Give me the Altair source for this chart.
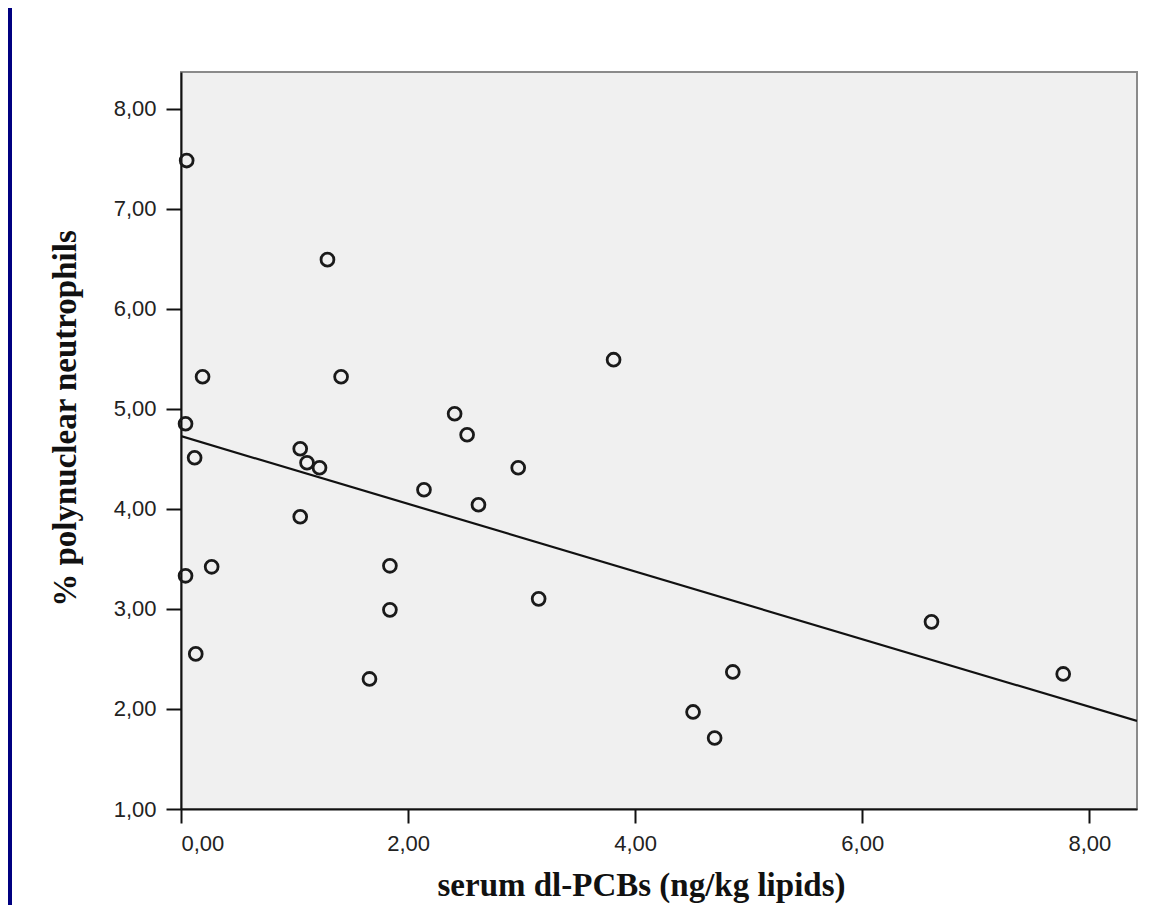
import altair as alt
import pandas as pd

# Data
pcb = [0.05, 1.29, 0.19, 1.41, 3.81, 2.41, 0.04, 2.52, 1.05, 0.12, 1.11, 1.22, 2.97, 2.14,
       2.62, 1.05, 1.84, 0.27, 0.04, 1.84, 3.15, 6.61, 0.13, 1.66, 4.86, 7.77, 4.51, 4.70]
pmn = [7.48, 6.49, 5.32, 5.32, 5.49, 4.95, 4.85, 4.74, 4.60, 4.51, 4.46, 4.41, 4.41, 4.19,
       4.04, 3.92, 3.43, 3.42, 3.33, 2.99, 3.10, 2.87, 2.55, 2.30, 2.37, 2.35, 1.97, 1.71]
x_ticks = [0, 2, 4, 6, 8]
y_ticks = [1, 2, 3, 4, 5, 6, 7, 8]
x_domain = [0, 8.42]
y_domain = [1, 8.365]

df = pd.DataFrame({"pcb": pcb, "pmn": pmn})

label_expr = "replace(format(datum.value, '.2f'), '.', ',')"

x_enc = alt.X(
    "pcb:Q",
    scale=alt.Scale(domain=x_domain, nice=False, zero=False),
    axis=alt.Axis(
        values=x_ticks, labelExpr=label_expr, grid=False,
        title="serum dl-PCBs (ng/kg lipids)",
        titleFont="Liberation Serif", titleFontSize=33, titleFontWeight="bold",
        titleColor="#111111", titleX=460, titleY=86, titleAlign="center",
        titleBaseline="alphabetic",
        labelFont="Liberation Sans", labelFontSize=22, labelColor="#222222",
        labelPadding=10, tickSize=14, tickWidth=2, tickColor="#111111",
        domainColor="#111111", domainWidth=2,
    ),
)
y_enc = alt.Y(
    "pmn:Q",
    scale=alt.Scale(domain=y_domain, nice=False, zero=False),
    axis=alt.Axis(
        values=y_ticks, labelExpr=label_expr, grid=False,
        title="% polynuclear neutrophils",
        titleFont="Liberation Serif", titleFontSize=33, titleFontWeight="bold",
        titleColor="#111111", titleX=-116, titleY=346, titleAngle=270,
        titleAlign="center", titleBaseline="middle",
        labelFont="Liberation Sans", labelFontSize=22, labelColor="#222222",
        labelPadding=10, tickSize=15, tickWidth=2, tickColor="#111111",
        domainColor="#111111", domainWidth=2,
    ),
)

points = alt.Chart(df).mark_point(
    shape="circle", filled=False, size=165, strokeWidth=2.8, color="#1a1a1a", opacity=1
).encode(x=x_enc, y=y_enc)

fit = alt.Chart(df).transform_regression(
    "pcb", "pmn", extent=x_domain
).mark_line(color="#111111", strokeWidth=2.2, clip=True).encode(x="pcb:Q", y="pmn:Q")

band = alt.Chart(df).mark_rule(color="#000080", strokeWidth=4).encode(
    x=alt.value(-171), y=alt.value(-64), y2=alt.value(833)
)

chart = alt.layer(fit, points, band).properties(
    width=956, height=737,
    padding={"left": 173, "top": 64, "right": 20, "bottom": 96},
    autosize="none",
    background="white",
).configure_view(
    fill="#f0f0f0", stroke="#8a8a8a", strokeWidth=2
)

chart.save("out.html", embed_options={"renderer": "svg", "actions": False})
